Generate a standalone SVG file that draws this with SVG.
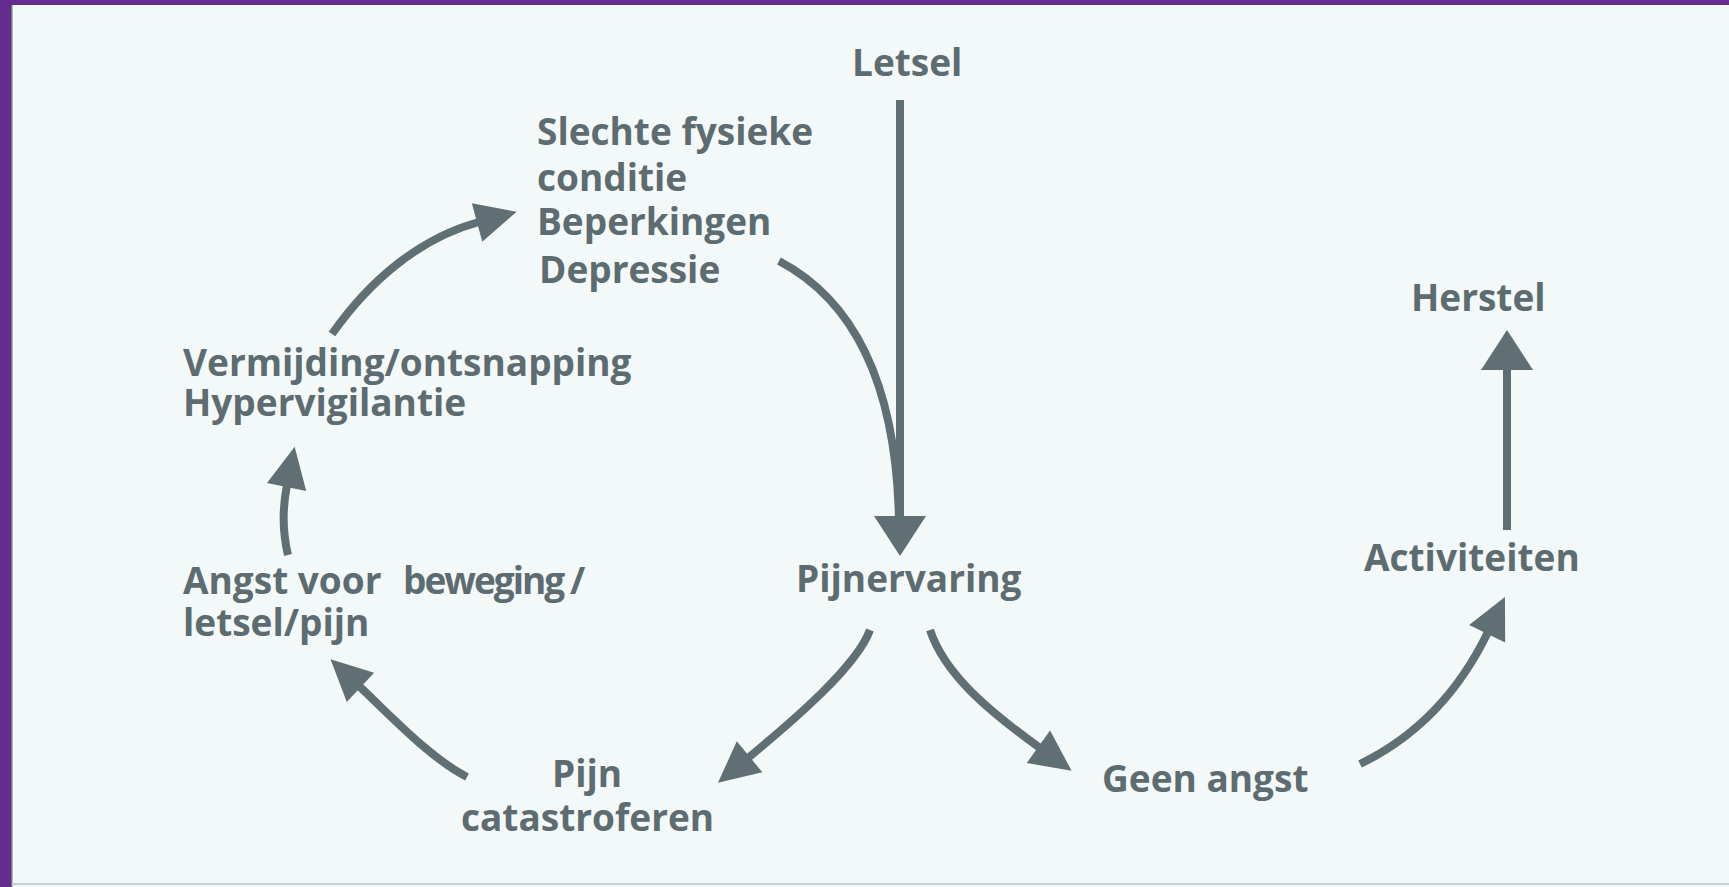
<svg xmlns="http://www.w3.org/2000/svg" width="1729" height="887" viewBox="0 0 1729 887">
<style>
.t{font-family:"Open Sans","DejaVu Sans",sans-serif;font-weight:700;font-size:37px;fill:#5d6c70}
.c{fill:none;stroke:#5f6f73;stroke-width:8}
</style>
<defs>
<marker id="ah" markerUnits="userSpaceOnUse" orient="auto" overflow="visible" markerWidth="1" markerHeight="1"><path d="M-2,-26 L38,0 L-2,26 z" fill="#5f6f73"/></marker>
<marker id="ahs" markerUnits="userSpaceOnUse" orient="auto" overflow="visible" markerWidth="1" markerHeight="1"><path d="M-2,-20 L39,0 L-2,20 z" fill="#5f6f73"/></marker>
</defs>
<rect x="0" y="0" width="1729" height="887" fill="#f3f8f8"/>
<rect x="0" y="0" width="1729" height="5" fill="#652c90"/>
<rect x="0" y="0" width="11" height="887" fill="#652c90"/>
<rect x="11" y="5" width="1.5" height="882" fill="#6f7a7c"/>
<rect x="12" y="883" width="1717" height="2" fill="#c9cfcf"/>
<g id="connectors">
<path class="c" d="M900,100 L900,518" marker-end="url(#ah)"/>
<path class="c" d="M779,261 Q895,322 899,520"/>
<path class="c" d="M870,630 C857,665 800,715 748,758" marker-end="url(#ahs)"/>
<path class="c" d="M930,630 C945,675 990,712 1040,748" marker-end="url(#ahs)"/>
<path class="c" d="M1360,764 C1420,735 1460,690 1488,632" marker-end="url(#ahs)"/>
<path class="c" d="M1507,530 L1507,368" marker-end="url(#ah)"/>
<path class="c" d="M467,777 C430,758 390,715 359,686" marker-end="url(#ahs)"/>
<path class="c" d="M288,555 C282,530 283,505 287,485" marker-end="url(#ahs)"/>
<path class="c" d="M332,334 C370,280 420,238 479,222" marker-end="url(#ahs)"/>
</g>
<g id="letsel"><text class="t" x="852" y="76">Letsel</text></g>
<g id="slechte"><text class="t" x="537" y="145">Slechte fysieke</text><text class="t" x="537" y="191">conditie</text><text class="t" x="537" y="235">Beperkingen</text><text class="t" x="539" y="283">Depressie</text></g>
<g id="herstel"><text class="t" x="1411" y="311">Herstel</text></g>
<g id="vermijding"><text class="t" x="183" y="376">Vermijding/ontsnapping</text><text class="t" x="183" y="416">Hypervigilantie</text></g>
<g id="angst"><text class="t" x="183" y="594">Angst voor <tspan x="403" letter-spacing="-2">beweging</tspan><tspan x="570">/</tspan></text><text class="t" x="183" y="636">letsel/pijn</text></g>
<g id="pijnervaring"><text class="t" x="796" y="592">Pijnervaring</text></g>
<g id="activiteiten"><text class="t" x="1364" y="571">Activiteiten</text></g>
<g id="pijncat"><text class="t" x="552" y="787">Pijn</text><text class="t" x="461" y="831">catastroferen</text></g>
<g id="geenangst"><text class="t" x="1102" y="792">Geen angst</text></g>
</svg>
